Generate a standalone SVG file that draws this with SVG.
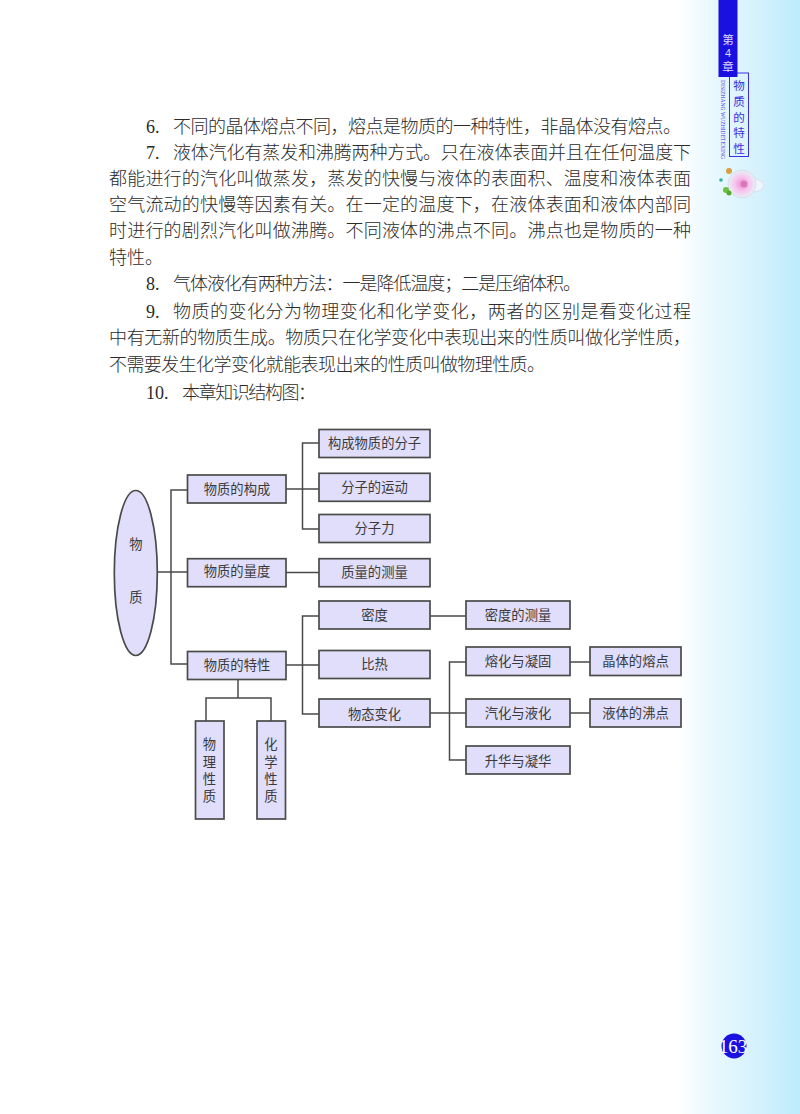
<svg xmlns="http://www.w3.org/2000/svg" width="800" height="1114" viewBox="0 0 800 1114">
<defs>
<linearGradient id="bg" x1="0" y1="0" x2="1" y2="0"><stop offset="0" stop-color="#fff"/><stop offset="0.85" stop-color="#fff"/><stop offset="0.875" stop-color="#effaff"/><stop offset="0.95" stop-color="#d4f1fd"/><stop offset="1" stop-color="#bcebfc"/></linearGradient>
<radialGradient id="cup"><stop offset="0" stop-color="#ee90d8"/><stop offset="0.55" stop-color="#f6c8ee"/><stop offset="1" stop-color="#e8f0f8"/></radialGradient>
</defs>
<style>
.body{font-family:"Noto Sans CJK SC","Liberation Serif",serif;font-size:18px;fill:#2a2a2a;font-weight:300}
.num{font-family:"Liberation Serif",serif;font-size:18px;fill:#2a2a2a}
.n rect,.n ellipse{fill:#e0defb;stroke:#4a4a4a;stroke-width:1.7}
.n text{font-family:"Noto Sans CJK SC","Liberation Sans",sans-serif;font-size:13.3px;fill:#3a3a3a;text-anchor:middle}
#connectors path{fill:none;stroke:#4a4a4a;stroke-width:1.5}
.side{font-family:"Noto Sans CJK SC",sans-serif;font-size:11.5px;text-anchor:middle}
</style>
<rect width="800" height="1114" fill="url(#bg)"/>
<g id="sidebar">
<rect x="729.5" y="73" width="19" height="83.5" fill="none" stroke="#3a30e0" stroke-width="1"/>
<rect x="718.5" y="0" width="19" height="77" fill="#1a10e0"/>
<text class="side" x="728" y="44" fill="#d8d8ff">第</text>
<text x="728" y="57" fill="#d8d8ff" font-family="Liberation Sans, sans-serif" font-size="11" text-anchor="middle">4</text>
<text class="side" x="728" y="71" fill="#d8d8ff">章</text>
<text class="side" x="739" y="89.5" fill="#3a30e0">物</text>
<text class="side" x="739" y="106" fill="#3a30e0">质</text>
<text class="side" x="739" y="122" fill="#3a30e0">的</text>
<text class="side" x="739" y="137" fill="#3a30e0">特</text>
<text class="side" x="739" y="153" fill="#3a30e0">性</text>
<text transform="translate(721 80) rotate(90)" font-family="Liberation Serif, serif" font-size="6" fill="#3a30e0" textLength="79" lengthAdjust="spacingAndGlyphs">DISIZHANG WUZHIDETEXING</text>
</g>
<g id="flower">
<path d="M752 178 Q766 180 763 188 Q758 193 748 192" fill="#eef6fb" stroke="#d5e2ec" stroke-width="1"/>
<circle cx="742" cy="184" r="14" fill="url(#cup)" stroke="#d5dfe8" stroke-width="1"/>
<circle cx="744" cy="184" r="3.5" fill="#d87ab8"/>
<circle cx="729" cy="171" r="3" fill="#d8a040"/>
<circle cx="726" cy="190" r="3" fill="#6cc040"/>
<circle cx="729" cy="193" r="2.5" fill="#58a830"/>
<circle cx="721" cy="180" r="1.8" fill="#30b0a0"/>
</g>
<g id="text">
<text class="num" x="146" y="133">6.</text><text class="body" x="173" y="133" textLength="508" lengthAdjust="spacing">不同的晶体熔点不同，熔点是物质的一种特性，非晶体没有熔点。</text>
<text class="num" x="146" y="159">7.</text><text class="body" x="173" y="159" textLength="518" lengthAdjust="spacing">液体汽化有蒸发和沸腾两种方式。只在液体表面并且在任何温度下</text>
<text class="body" x="109" y="185" textLength="582" lengthAdjust="spacing">都能进行的汽化叫做蒸发，蒸发的快慢与液体的表面积、温度和液体表面</text>
<text class="body" x="109" y="211" textLength="582" lengthAdjust="spacing">空气流动的快慢等因素有关。在一定的温度下，在液体表面和液体内部同</text>
<text class="body" x="109" y="237" textLength="582" lengthAdjust="spacing">时进行的剧烈汽化叫做沸腾。不同液体的沸点不同。沸点也是物质的一种</text>
<text class="body" x="109" y="264">特性。</text>
<text class="num" x="146" y="290">8.</text><text class="body" x="173" y="290" textLength="408" lengthAdjust="spacing">气体液化有两种方法：一是降低温度；二是压缩体积。</text>
<text class="num" x="146" y="318">9.</text><text class="body" x="173" y="318" textLength="518" lengthAdjust="spacing">物质的变化分为物理变化和化学变化，两者的区别是看变化过程</text>
<text class="body" x="109" y="344" textLength="582" lengthAdjust="spacing">中有无新的物质生成。物质只在化学变化中表现出来的性质叫做化学性质，</text>
<text class="body" x="109" y="371" textLength="436" lengthAdjust="spacing">不需要发生化学变化就能表现出来的性质叫做物理性质。</text>
<text class="num" x="146" y="399">10.</text><text class="body" x="182" y="399" textLength="134" lengthAdjust="spacing">本章知识结构图：</text>
</g>
<g id="connectors">
<path d="M157.5 572H187.5M187.5 490H171V664H187.5"/>
<path d="M286 489H319M319 443H302.5V529H319"/>
<path d="M286 572.5H319"/>
<path d="M286 665H319M319 616H302.5V714H319"/>
<path d="M430 616H466"/>
<path d="M430 713H466M466 662H449.5V760H466"/>
<path d="M570 662H590M570 713H590"/>
<path d="M238 680V698M206 721V698H271V721"/>
</g>
<g id="root" class="n"><ellipse cx="135.8" cy="573" rx="21.5" ry="82.5"/><text x="136" y="549">物</text><text x="136" y="602">质</text></g>
<g id="n1" class="n"><rect x="187.5" y="475" width="98.5" height="28"/><text x="237" y="494">物质的构成</text></g>
<g id="n2" class="n"><rect x="187.5" y="558.7" width="98.5" height="28"/><text x="237" y="576">物质的量度</text></g>
<g id="n3" class="n"><rect x="187.5" y="651.5" width="98.5" height="28"/><text x="237" y="670">物质的特性</text></g>
<g id="n4" class="n"><rect x="319" y="429.5" width="111" height="28"/><text x="374.5" y="448">构成物质的分子</text></g>
<g id="n5" class="n"><rect x="319" y="473.3" width="111" height="28"/><text x="374.5" y="491.5">分子的运动</text></g>
<g id="n6" class="n"><rect x="319" y="514.5" width="111" height="28"/><text x="374.5" y="533">分子力</text></g>
<g id="n7" class="n"><rect x="319" y="558.7" width="111" height="28"/><text x="374.5" y="577">质量的测量</text></g>
<g id="n8" class="n"><rect x="319" y="601" width="111" height="28"/><text x="374.5" y="620">密度</text></g>
<g id="n9" class="n"><rect x="319" y="650.5" width="111" height="28"/><text x="374.5" y="669">比热</text></g>
<g id="n10" class="n"><rect x="319" y="699" width="111" height="28"/><text x="374.5" y="719">物态变化</text></g>
<g id="n11" class="n"><rect x="466" y="601" width="104" height="28"/><text x="518" y="620">密度的测量</text></g>
<g id="n12" class="n"><rect x="466" y="647" width="104" height="28.5"/><text x="518" y="666">熔化与凝固</text></g>
<g id="n13" class="n"><rect x="466" y="699" width="104" height="28"/><text x="518" y="718">汽化与液化</text></g>
<g id="n14" class="n"><rect x="466" y="746" width="104" height="28"/><text x="518" y="766">升华与凝华</text></g>
<g id="n15" class="n"><rect x="590" y="647" width="91" height="28.5"/><text x="635.5" y="666">晶体的熔点</text></g>
<g id="n16" class="n"><rect x="590" y="699" width="91" height="28"/><text x="635.5" y="718">液体的沸点</text></g>
<g id="n17" class="n"><rect x="195.5" y="721" width="28.5" height="98"/><text x="209.5" y="749">物</text><text x="209.5" y="766.5">理</text><text x="209.5" y="784">性</text><text x="209.5" y="801">质</text></g>
<g id="n18" class="n"><rect x="257" y="721" width="28.5" height="98"/><text x="271" y="749">化</text><text x="271" y="766.5">学</text><text x="271" y="784">性</text><text x="271" y="801">质</text></g>
<g id="page"><circle cx="734" cy="1046" r="12.5" fill="#1a10e0"/><text x="733" y="1052.5" font-family="Liberation Serif, serif" font-size="19" fill="#fff" text-anchor="middle">163</text></g>
</svg>
